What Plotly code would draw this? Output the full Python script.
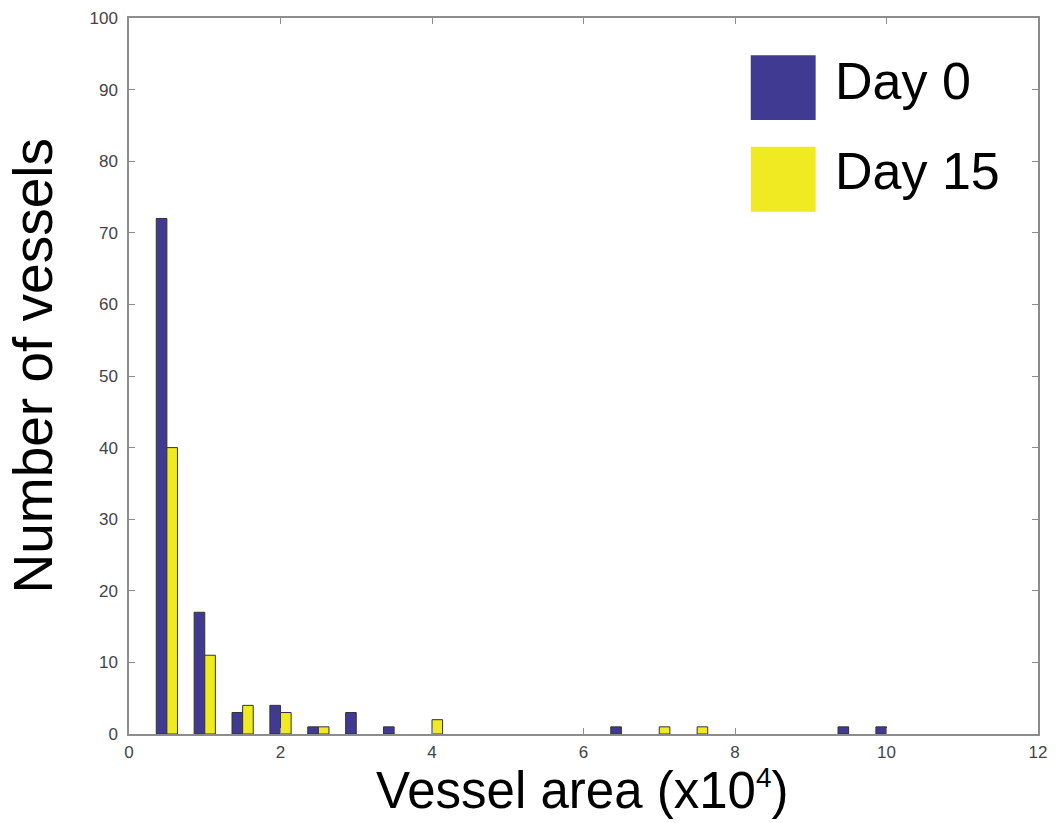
import plotly.graph_objects as go

# Bin centres (x10^4) and counts
bin_centers = [0.5, 1.0, 1.5, 2.0, 2.5, 3.0, 3.5, 4.0, 6.5, 7.0, 7.5, 9.5, 10.0]
day0_counts = [72, 17, 3, 4, 1, 3, 1, 0, 1, 0, 0, 1, 1]
day15_counts = [40, 11, 4, 3, 1, 0, 0, 2, 0, 1, 1, 0, 0]
series_names = ["Day 0", "Day 15"]
x_ticks = [0, 2, 4, 6, 8, 10, 12]
y_ticks = [0, 10, 20, 30, 40, 50, 60, 70, 80, 90, 100]

BLUE = "#413a92"
YELLOW = "#f0ea22"
FONT = "Liberation Sans, Arial, Helvetica, sans-serif"
BAR_W = 0.14


def outline_widths(counts):
    return [1 if c > 0 else 0 for c in counts]


fig = go.Figure()
fig.add_trace(go.Bar(
    x=bin_centers, y=day0_counts, name=series_names[0],
    width=BAR_W, offset=-BAR_W,
    marker=dict(color=BLUE, line=dict(color="#333333", width=outline_widths(day0_counts))),
    showlegend=False,
))
fig.add_trace(go.Bar(
    x=bin_centers, y=day15_counts, name=series_names[1],
    width=BAR_W, offset=0,
    marker=dict(color=YELLOW, line=dict(color="#333333", width=outline_widths(day15_counts))),
    showlegend=False,
))

axis_common = dict(
    showgrid=False, zeroline=False, automargin=False,
    showline=True, linecolor="#8c8c8c", linewidth=1.5,
    mirror="ticks", ticks="inside", ticklen=6, tickcolor="#8c8c8c", tickwidth=1.2,
    tickfont=dict(family=FONT, size=17, color="#444444"),
)

fig.update_layout(
    width=1056, height=823,
    margin=dict(l=129, r=18, t=18, b=89),
    paper_bgcolor="white", plot_bgcolor="white",
    barmode="overlay",
    xaxis=dict(range=[0, 12], tickvals=x_ticks, ticklabelstandoff=2, **axis_common),
    yaxis=dict(range=[0, 100], tickvals=y_ticks, ticklabelstandoff=6, **axis_common),
)

# axis titles
fig.add_annotation(xref="paper", yref="paper", x=0.4985, y=-0.0785,
                   xanchor="center", yanchor="middle", showarrow=False,
                   text="Vessel area (x10<sup><span style='font-size:28px'>4</span></sup>)",
                   font=dict(family=FONT, size=51, color="black"))
fig.add_annotation(xref="paper", yref="paper", x=-0.1056, y=0.5133,
                   xanchor="center", yanchor="middle", showarrow=False,
                   textangle=-90, text="Number of vessels",
                   font=dict(family=FONT, size=55, color="black"))

# Manual legend (large patches like the original)
legend_items = [(series_names[0], BLUE, 0.948, 0.8575, 0.912),
                (series_names[1], YELLOW, 0.8203, 0.7295, 0.786)]
for name, col, y1, y0, ty in legend_items:
    fig.add_shape(type="rect", xref="paper", yref="paper",
                  x0=0.684, x1=0.7554, y0=y0, y1=y1,
                  fillcolor=col, line=dict(width=0))
    fig.add_annotation(xref="paper", yref="paper", x=0.7745, y=ty,
                       xanchor="left", yanchor="middle", showarrow=False,
                       text=name, font=dict(family=FONT, size=52, color="black"))

fig.write_html("out.html")
